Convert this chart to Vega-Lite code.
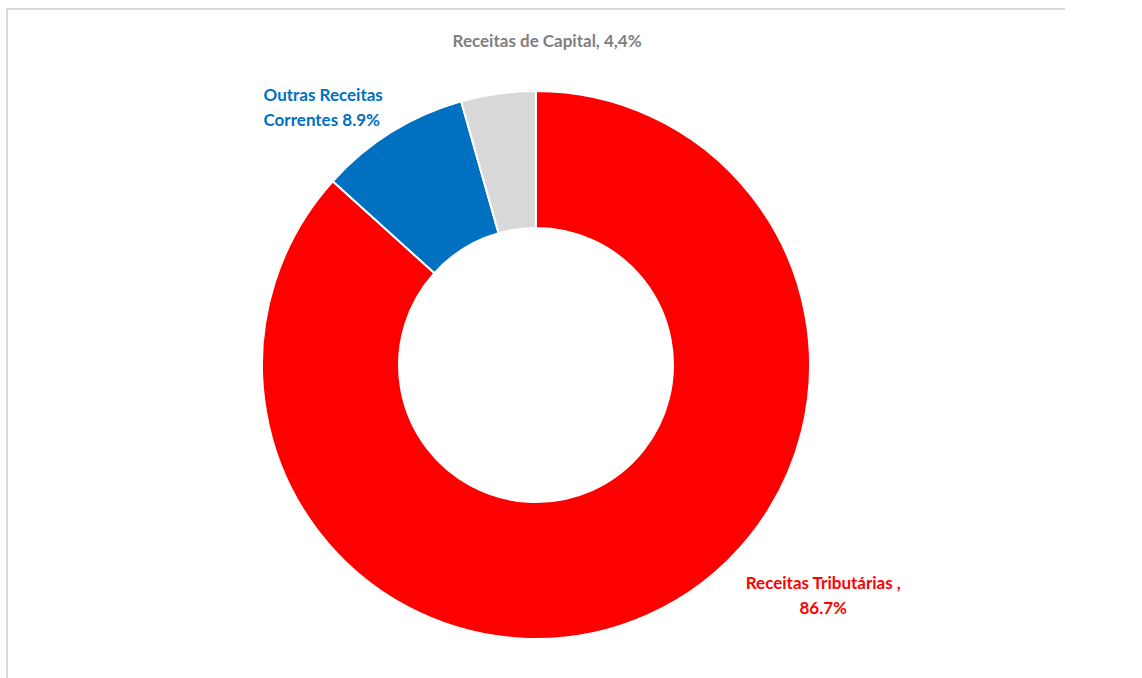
{
  "$schema": "https://vega.github.io/schema/vega-lite/v6.json",
  "width": 1058,
  "height": 712,
  "autosize": {"type": "none"},
  "padding": {"left": 7, "top": 9, "right": 0, "bottom": 0},
  "background": "white",
  "view": {"stroke": "#D9D9D9", "strokeWidth": 2, "strokeDash": [1058, 1770, 712]},
  "config": {
    "text": {"font": "Lato", "fontWeight": "bold", "fontSize": 17}
  },
  "data": {
    "values": [
      {"categoria": "Receitas Tributárias", "valor": 86.7, "rotulo": "Receitas Tributárias ,\n86.7%"},
      {"categoria": "Outras Receitas Correntes", "valor": 8.9, "rotulo": "Outras Receitas\nCorrentes 8.9%"},
      {"categoria": "Receitas de Capital", "valor": 4.4, "rotulo": "Receitas de Capital, 4,4%"}
    ]
  },
  "layer": [
    {
      "mark": {"type": "arc", "radius": 274, "radius2": 137, "stroke": "white", "strokeWidth": 2},
      "encoding": {
        "theta": {"field": "valor", "type": "quantitative", "stack": true},
        "order": {"field": "valor", "type": "quantitative", "sort": "descending"},
        "color": {
          "field": "categoria",
          "type": "nominal",
          "scale": {
            "domain": ["Receitas Tributárias", "Outras Receitas Correntes", "Receitas de Capital"],
            "range": ["#FF0000", "#0070C0", "#D9D9D9"]
          },
          "legend": null
        }
      }
    },
    {
      "mark": {"type": "text", "radius": 326, "dx": 56, "align": "center", "baseline": "middle", "color": "#7F7F7F"},
      "encoding": {
        "theta": {"field": "valor", "type": "quantitative", "stack": true},
        "order": {"field": "valor", "type": "quantitative", "sort": "descending"},
        "text": {"condition": {"test": "datum.categoria === 'Receitas de Capital'", "field": "rotulo"}, "value": ""}
      }
    },
    {
      "mark": {"type": "text", "radius": 304, "dx": -112, "dy": -11, "align": "left", "baseline": "middle", "lineBreak": "\n", "lineHeight": 25, "color": "#0070C0"},
      "encoding": {
        "theta": {"field": "valor", "type": "quantitative", "stack": true},
        "order": {"field": "valor", "type": "quantitative", "sort": "descending"},
        "text": {"condition": {"test": "datum.categoria === 'Outras Receitas Correntes'", "field": "rotulo"}, "value": ""}
      }
    },
    {
      "mark": {"type": "text", "radius": 252, "dx": 185, "dy": -11, "align": "center", "baseline": "middle", "lineBreak": "\n", "lineHeight": 25, "color": "#FF0000"},
      "encoding": {
        "theta": {"field": "valor", "type": "quantitative", "stack": true},
        "order": {"field": "valor", "type": "quantitative", "sort": "descending"},
        "text": {"condition": {"test": "datum.categoria === 'Receitas Tributárias'", "field": "rotulo"}, "value": ""}
      }
    }
  ]
}
